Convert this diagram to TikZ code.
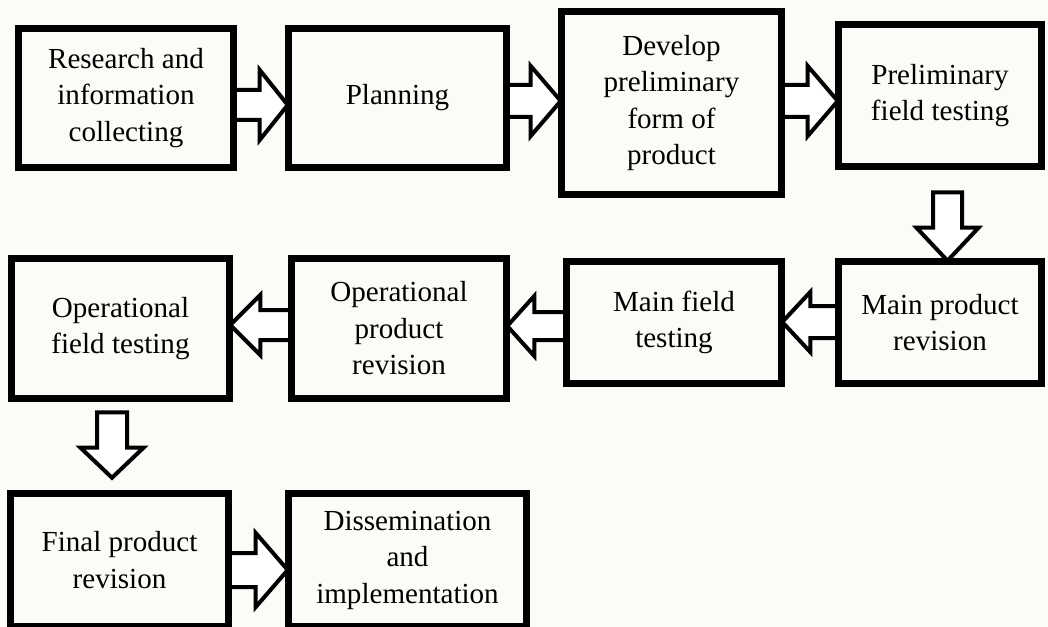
\documentclass[tikz,border=0pt]{standalone}
\usepackage{fontspec}
\setmainfont{Liberation Serif}
\usetikzlibrary{calc}
\definecolor{bgcol}{RGB}{251,252,248}
\tikzset{
  box/.style={draw=black, line width=3.4pt, inner sep=0pt, align=center,
    font=\fontsize{21.8pt}{27.4pt}\selectfont, line join=miter},
  barrow/.style={draw=black, fill=white, line width=3pt, line join=miter, miter limit=10}
}
% box from pixel corners: #1 name, #2 x1, #3 y1, #4 x2, #5 y2, #6 text
\newcommand{\boxat}[6]{%
  \node[box, minimum width={(#4-#2)*0.75pt}, minimum height={(#5-#3)*0.75pt}]
    (#1) at ({(#2+#4)/2},{(#3+#5)/2}) {#6};}
% right-pointing block arrow: #1 start, #2 tip, #3 shaft half width, #4 head half width, #5 head length
\newcommand{\blockR}[5]{%
  \filldraw[barrow] ($(#1)+(0,-#3)$) -- ($(#2)+(-#5,-#3)$) -- ($(#2)+(-#5,-#4)$) -- (#2)
    -- ($(#2)+(-#5,#4)$) -- ($(#2)+(-#5,#3)$) -- ($(#1)+(0,#3)$);}
% left-pointing block arrow
\newcommand{\blockL}[5]{%
  \filldraw[barrow] ($(#1)+(0,-#3)$) -- ($(#2)+(#5,-#3)$) -- ($(#2)+(#5,-#4)$) -- (#2)
    -- ($(#2)+(#5,#4)$) -- ($(#2)+(#5,#3)$) -- ($(#1)+(0,#3)$);}
% down-pointing block arrow (closed shaft top)
\newcommand{\blockD}[5]{%
  \filldraw[barrow] ($(#1)+(-#3,0)$) -- ($(#1)+(#3,0)$) -- ($(#2)+(#3,-#5)$) -- ($(#2)+(#4,-#5)$)
    -- (#2) -- ($(#2)+(-#4,-#5)$) -- ($(#2)+(-#3,-#5)$) -- cycle;}
\begin{document}
\begin{tikzpicture}[x=0.75pt,y=-0.75pt]
\fill[bgcol] (0,0) rectangle (1048,627);
\useasboundingbox (0,0) rectangle (1048,627);

% boxes
\boxat{b1}{20}{30}{232}{166}{Research and\\information\\collecting}
\boxat{b2}{290}{30}{505}{166}{Planning}
\boxat{b3}{563}{13}{780}{193}{Develop\\preliminary\\form of\\product}
\boxat{b4}{840}{26}{1040}{165}{Preliminary\\field testing}
\boxat{b5}{840}{263}{1040}{382}{Main product\\revision}
\boxat{b6}{568}{263}{780}{382}{Main field\\testing}
\boxat{b7}{293}{260}{505}{397}{Operational\\product\\revision}
\boxat{b8}{13}{260}{228}{397}{Operational\\field testing}
\boxat{b9}{12}{495}{227}{625}{Final product\\revision}
\boxat{b10}{290}{495}{525}{625}{Dissemination\\and\\implementation}

% arrow anchor coordinates
\coordinate (s12) at (b1.east |- 0,105);  \coordinate (t12) at (b2.west |- 0,105);
\coordinate (s23) at (b2.east |- 0,101);  \coordinate (t23) at (b3.west |- 0,101);
\coordinate (s34) at (b3.east |- 0,101);  \coordinate (t34) at (b4.west |- 0,101);
\coordinate (s45) at ($(b4.south -| 947.5,0)+(0,25)$); \coordinate (t45) at (b5.north -| 947.5,0);
\coordinate (s56) at (b5.west |- 0,322);  \coordinate (t56) at (b6.east |- 0,322);
\coordinate (s67) at (b6.west |- 0,326);  \coordinate (t67) at (b7.east |- 0,326);
\coordinate (s78) at (b7.west |- 0,325);  \coordinate (t78) at (b8.east |- 0,325);
\coordinate (s89) at ($(b8.south -| 112,0)+(0,13)$); \coordinate (t89) at ($(b9.north -| 112,0)+(0,-15)$);
\coordinate (s910) at (b9.east |- 0,570); \coordinate (t910) at (b10.west |- 0,570);

% block arrows
\blockR{s12}{t12}{15}{35}{28}
\blockR{s23}{t23}{16}{35}{30}
\blockR{s34}{t34}{16}{35}{30}
\blockD{s45}{t45}{14.5}{31}{33}
\blockL{s56}{t56}{16}{30}{28}
\blockL{s67}{t67}{14}{30}{27}
\blockL{s78}{t78}{15}{30}{30}
\blockD{s89}{t89}{15}{31.5}{30}
\blockR{s910}{t910}{17}{37}{32}

% redraw box borders on top
\foreach \n in {b1,b2,b3,b4,b5,b6,b7,b8,b9,b10}
  \draw[line width=3.4pt, line join=miter] (\n.north west) rectangle (\n.south east);
\end{tikzpicture}
\end{document}
